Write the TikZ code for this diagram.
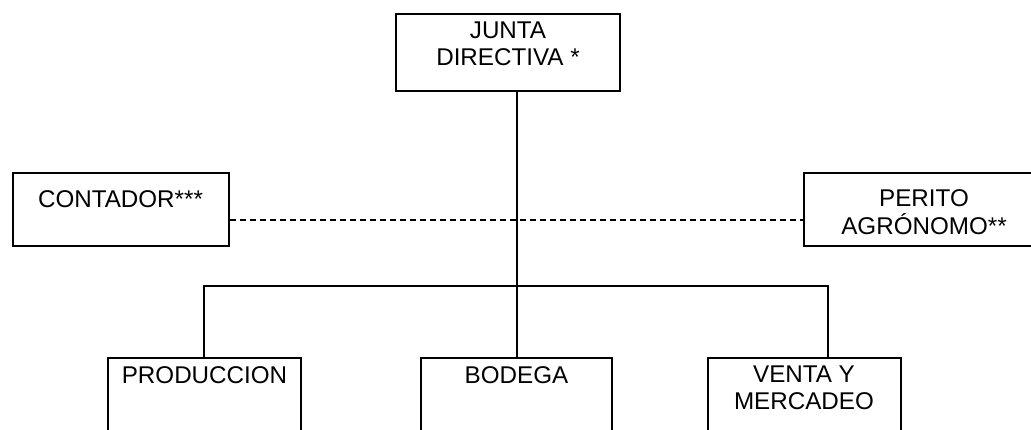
\documentclass[tikz,border=0pt]{standalone}
\usepackage{fontspec}
\setmainfont{Liberation Sans}
\begin{document}
\begin{tikzpicture}[x=1pt,y=-1pt]
  \tikzset{CajaStyle/.style={draw,line width=1.8pt,inner sep=0pt,minimum height=#1},
    TextoStyle/.style={anchor=north,inner sep=0pt,align=center,font=\fontsize{24.2}{27.5}\selectfont},
    LineaStyle/.style={line width=1.8pt},
    GuionStyle/.style={line width=1.8pt,dash pattern=on 6pt off 4pt}
  }
  \useasboundingbox (0,0) rectangle (1031,430);
  \clip (0,0) rectangle (1031,430);
  % cajas
  \node[CajaStyle=77pt,minimum width=224pt] (junta) at (508,52.5) {};
  \node[CajaStyle=73pt,minimum width=216pt] (contador) at (121,209.5) {};
  \node[CajaStyle=73pt,minimum width=240pt] (perito) at (924,209.5) {};
  \node[CajaStyle=100pt,minimum width=193pt] (prod) at (204.5,408) {};
  \node[CajaStyle=100pt,minimum width=191pt] (bodega) at (516.5,408) {};
  \node[CajaStyle=100pt,minimum width=193pt] (venta) at (804.5,408) {};
  % textos
  \node[TextoStyle] (tjunta) at (508,21.5) {JUNTA\\DIRECTIVA *};
  \node[TextoStyle] (tcontador) at (120.5,190) {CONTADOR***};
  \node[TextoStyle] (tperito) at (924,189.5) {PERITO\\AGRÓNOMO**};
  \node[TextoStyle] (tprod) at (204.5,366) {PRODUCCION};
  \node[TextoStyle] (tbodega) at (516.5,366) {BODEGA};
  \node[TextoStyle] (tventa) at (804,365.5) {VENTA Y\\MERCADEO};
  % lineas
  \coordinate (bus) at (517,286);
  \coordinate (guia) at (517,220);
  \coordinate (prodin) at (204,358);
  \coordinate (ventain) at (828,358);
  \draw[LineaStyle] (junta.south -| bus) -- (bus |- bodega.north);
  \draw[LineaStyle] (prodin) |- (bus) -| (ventain);
  \draw[GuionStyle] (guia -| contador.east) -- (guia -| perito.west);
\end{tikzpicture}
\end{document}
